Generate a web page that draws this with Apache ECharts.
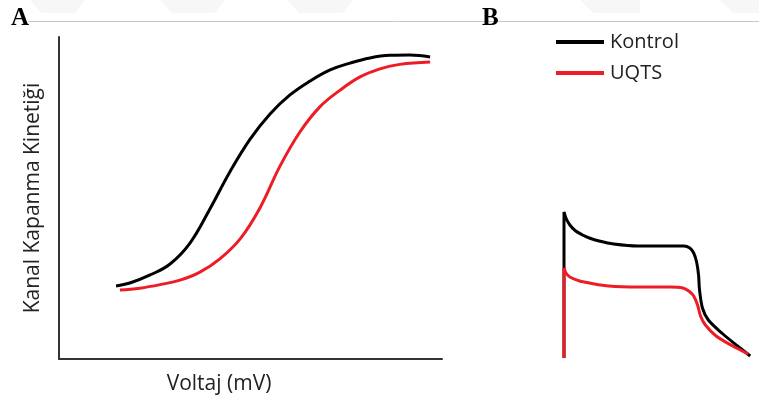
<!DOCTYPE html>
<html>
<head>
<meta charset="utf-8">
<script src="https://cdn.jsdelivr.net/npm/echarts@6/dist/echarts.min.js"></script>
<style>
html, body { margin: 0; padding: 0; background: #fff; }
#main { width: 759px; height: 401px; }
</style>
</head>
<body>
<div id="main"></div>
<script>
// A paneli: voltaj (0-100) - kapanma kinetiği (0-100)
var kontrolA = [
  [14.9, 22.7], [18.5, 23.6], [23.8, 26.1], [29.0, 29.5], [34.2, 36.0],
  [39.4, 46.6], [44.6, 58.1], [49.9, 68.3], [55.1, 76.1], [60.3, 82.0],
  [65.5, 86.3], [70.8, 89.8], [76.0, 91.9], [81.2, 93.5], [86.4, 94.3],
  [91.6, 94.4], [96.9, 93.8]
];
var uqtsA = [
  [15.9, 21.4], [21.1, 22.0], [26.4, 23.1], [31.6, 24.5], [36.8, 27.0],
  [42.0, 31.1], [47.3, 37.3], [52.5, 47.0], [57.7, 59.9], [62.9, 70.5],
  [68.1, 78.3], [73.4, 83.5], [78.6, 87.6], [83.8, 90.1], [89.0, 91.5],
  [96.9, 92.2]
];
// B paneli: zaman - akım
var kontrolB = [
  [0, 0], [0, 146], [2, 140], [6, 133], [12, 127], [19, 123], [26, 120],
  [36, 117], [51, 114], [76, 112], [106, 112], [123, 112], [129, 110],
  [133, 105], [136, 96], [138, 83], [139, 68], [142, 50], [148, 38],
  [163, 24], [178, 12], [191, 2]
];
var uqtsB = [
  [0, 0], [0, 90], [2, 85], [6, 81], [16, 77], [26, 75], [46, 72],
  [76, 71], [109, 71], [122, 70], [128, 67], [133, 62], [137, 53],
  [140, 42], [145, 33], [156, 22], [173, 12], [189, 4]
];
var seriesNames = ['Kontrol', 'UQTS'];

var myChart = echarts.init(document.getElementById('main'));

var option = {
  animation: false,
  backgroundColor: '#fff',
  textStyle: { fontFamily: 'Open Sans' },
  legend: {
    data: seriesNames,
    orient: 'vertical',
    left: 551,
    top: 27,
    icon: 'rect',
    itemWidth: 48,
    itemHeight: 4,
    itemGap: 11,
    textStyle: { fontSize: 20, color: '#222', fontFamily: 'Open Sans', padding: [0, 0, 0, 1] }
  },
  grid: [
    { left: 59, top: 37, width: 383, height: 322 },
    { left: 564, top: 198, width: 200, height: 160 }
  ],
  xAxis: [
    {
      gridIndex: 0, type: 'value', min: 0, max: 100,
      axisLine: { lineStyle: { color: '#333', width: 2 } },
      axisTick: { show: false }, axisLabel: { show: false }, splitLine: { show: false }
    },
    { gridIndex: 1, type: 'value', min: 0, max: 200, show: false }
  ],
  yAxis: [
    {
      gridIndex: 0, type: 'value', min: 0, max: 100,
      axisLine: { show: true, lineStyle: { color: '#333', width: 2 } },
      axisTick: { show: false }, axisLabel: { show: false }, splitLine: { show: false }
    },
    { gridIndex: 1, type: 'value', min: 0, max: 160, show: false }
  ],
  graphic: [
    { type: 'polygon', shape: { points: [[30, 0], [85, 0], [75, 13], [42, 13]] }, style: { fill: '#f7f7f7' }, silent: true },
    { type: 'polygon', shape: { points: [[160, 0], [225, 0], [215, 13], [172, 13]] }, style: { fill: '#f7f7f7' }, silent: true },
    { type: 'polygon', shape: { points: [[287, 0], [353, 0], [343, 13], [299, 13]] }, style: { fill: '#f7f7f7' }, silent: true },
    { type: 'polygon', shape: { points: [[580, 0], [640, 0], [640, 13], [593, 13]] }, style: { fill: '#f7f7f7' }, silent: true },
    { type: 'polygon', shape: { points: [[720, 0], [759, 0], [759, 13], [733, 13]] }, style: { fill: '#f7f7f7' }, silent: true },
    { type: 'line', shape: { x1: 28, y1: 21.5, x2: 759, y2: 21.5 }, style: { stroke: '#c8c8c8', lineWidth: 1 }, silent: true },
    { type: 'text', left: 11, top: 6, style: { text: 'A', font: 'bold 25px "Liberation Serif"', fill: '#000' } },
    { type: 'text', left: 482, top: 6, style: { text: 'B', font: 'bold 25px "Liberation Serif"', fill: '#000' } },
    { type: 'text', x: 219, y: 384, style: { text: 'Voltaj (mV)', font: '21px "Open Sans"', fill: '#222', align: 'center', verticalAlign: 'middle' } },
    { type: 'text', x: 33, y: 198, rotation: Math.PI / 2, style: { text: 'Kanal Kapanma Kinetiği', font: '21px "Open Sans"', fill: '#222', align: 'center', verticalAlign: 'middle' } }
  ],
  series: [
    {
      name: 'Kontrol', type: 'line', xAxisIndex: 0, yAxisIndex: 0,
      data: kontrolA, smooth: 0.4, showSymbol: false,
      color: '#000', lineStyle: { width: 3, color: '#000' }
    },
    {
      name: 'UQTS', type: 'line', xAxisIndex: 0, yAxisIndex: 0,
      data: uqtsA, smooth: 0.4, showSymbol: false,
      color: '#ee1c25', lineStyle: { width: 3, color: '#ee1c25' }
    },
    {
      name: 'Kontrol', type: 'line', xAxisIndex: 1, yAxisIndex: 1,
      data: kontrolB, smooth: 0.3, showSymbol: false,
      color: '#000', lineStyle: { width: 3, color: '#000' }
    },
    {
      name: 'UQTS', type: 'line', xAxisIndex: 1, yAxisIndex: 1,
      data: uqtsB, smooth: 0.3, showSymbol: false,
      color: '#ee1c25', lineStyle: { width: 3, color: '#ee1c25' }
    }
  ]
};

myChart.setOption(option);
</script>
</body>
</html>
